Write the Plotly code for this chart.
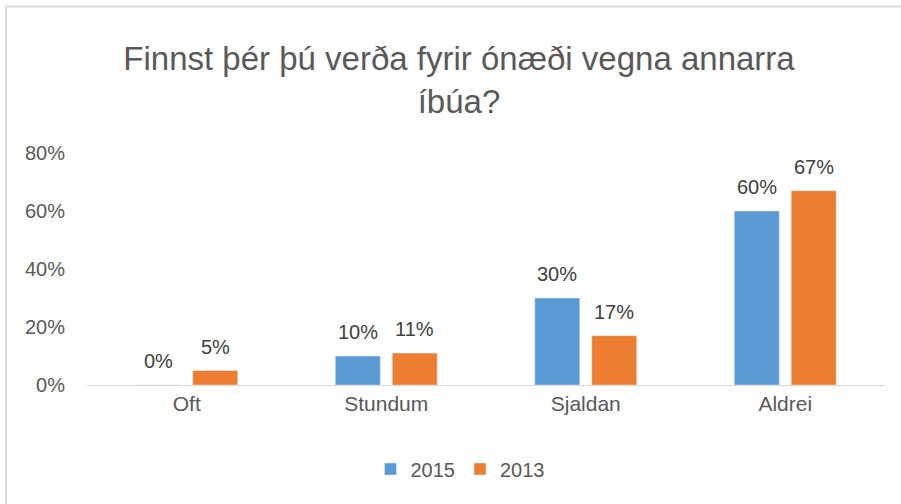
import plotly.graph_objects as go

categories = ["Oft", "Stundum", "Sjaldan", "Aldrei"]
series_2015 = [0, 10, 30, 60]
series_2013 = [5, 11, 17, 67]
tick_vals = [0, 20, 40, 60, 80]
tick_text = ["0%", "20%", "40%", "60%", "80%"]

W, H = 901, 504
L, R, T, B = 87, 16, 153, 119
pw, ph = W - L - R, H - T - B

def px_x(x):
    return (x - L) / pw

def px_y(y):
    return (H - B - y) / ph

FONT = "Liberation Sans"
GRAY = "#595959"
LABEL = "#404040"

fig = go.Figure()
fig.add_trace(go.Bar(name="2015", x=categories, y=series_2015, marker_color="#5B9BD5"))
fig.add_trace(go.Bar(name="2013", x=categories, y=series_2013, marker_color="#ED7D31"))

annotations = []
for vals, shift in ((series_2015, -28.5), (series_2013, 28.5)):
    for c, v in zip(categories, vals):
        annotations.append(dict(
            x=c, y=v, xref="x", yref="y", text=f"{v}%", showarrow=False,
            xshift=shift, yshift=24, xanchor="center", yanchor="middle",
            font=dict(size=20, color=LABEL, family=FONT),
        ))

fig.update_layout(
    width=W, height=H,
    margin=dict(l=L, r=R, t=T, b=B),
    paper_bgcolor="white", plot_bgcolor="white",
    barmode="group", bargap=0.429, bargroupgap=0.21,
    font=dict(family=FONT, color=GRAY, size=20),
    title=dict(
        text="Finnst þér þú verða fyrir ónæði vegna annarra<br>íbúa?",
        x=px_x(459), xref="paper", xanchor="center",
        y=1 - 70 / H, yref="container", yanchor="top",
        font=dict(size=33, color=GRAY, family=FONT),
    ),
    showlegend=True,
    legend=dict(
        orientation="h", x=px_x(460), xanchor="center",
        y=px_y(469), yanchor="middle",
        font=dict(size=20, color=GRAY, family=FONT),
        traceorder="normal",
    ),
    xaxis=dict(
        showline=True, linecolor="#D9D9D9", linewidth=1,
        showgrid=False, ticks="", tickfont=dict(size=21, color=GRAY),
        fixedrange=True,
    ),
    yaxis=dict(
        range=[0, 80], tickvals=tick_vals, ticktext=tick_text,
        showgrid=False, zeroline=False, showline=False,
        tickfont=dict(size=20, color=GRAY), ticklabelstandoff=21,
    ),
    annotations=annotations,
    shapes=[
        dict(type="line", xref="paper", yref="paper",
             x0=px_x(5), x1=px_x(901), y0=px_y(6.5), y1=px_y(6.5),
             line=dict(color="#D9D9D9", width=2)),
        dict(type="line", xref="paper", yref="paper",
             x0=px_x(6), x1=px_x(6), y0=px_y(6), y1=px_y(504),
             line=dict(color="#D9D9D9", width=2)),
    ],
)

fig.write_html("out.html", config={"displayModeBar": False},
               post_script="document.body.style.margin='0';")
